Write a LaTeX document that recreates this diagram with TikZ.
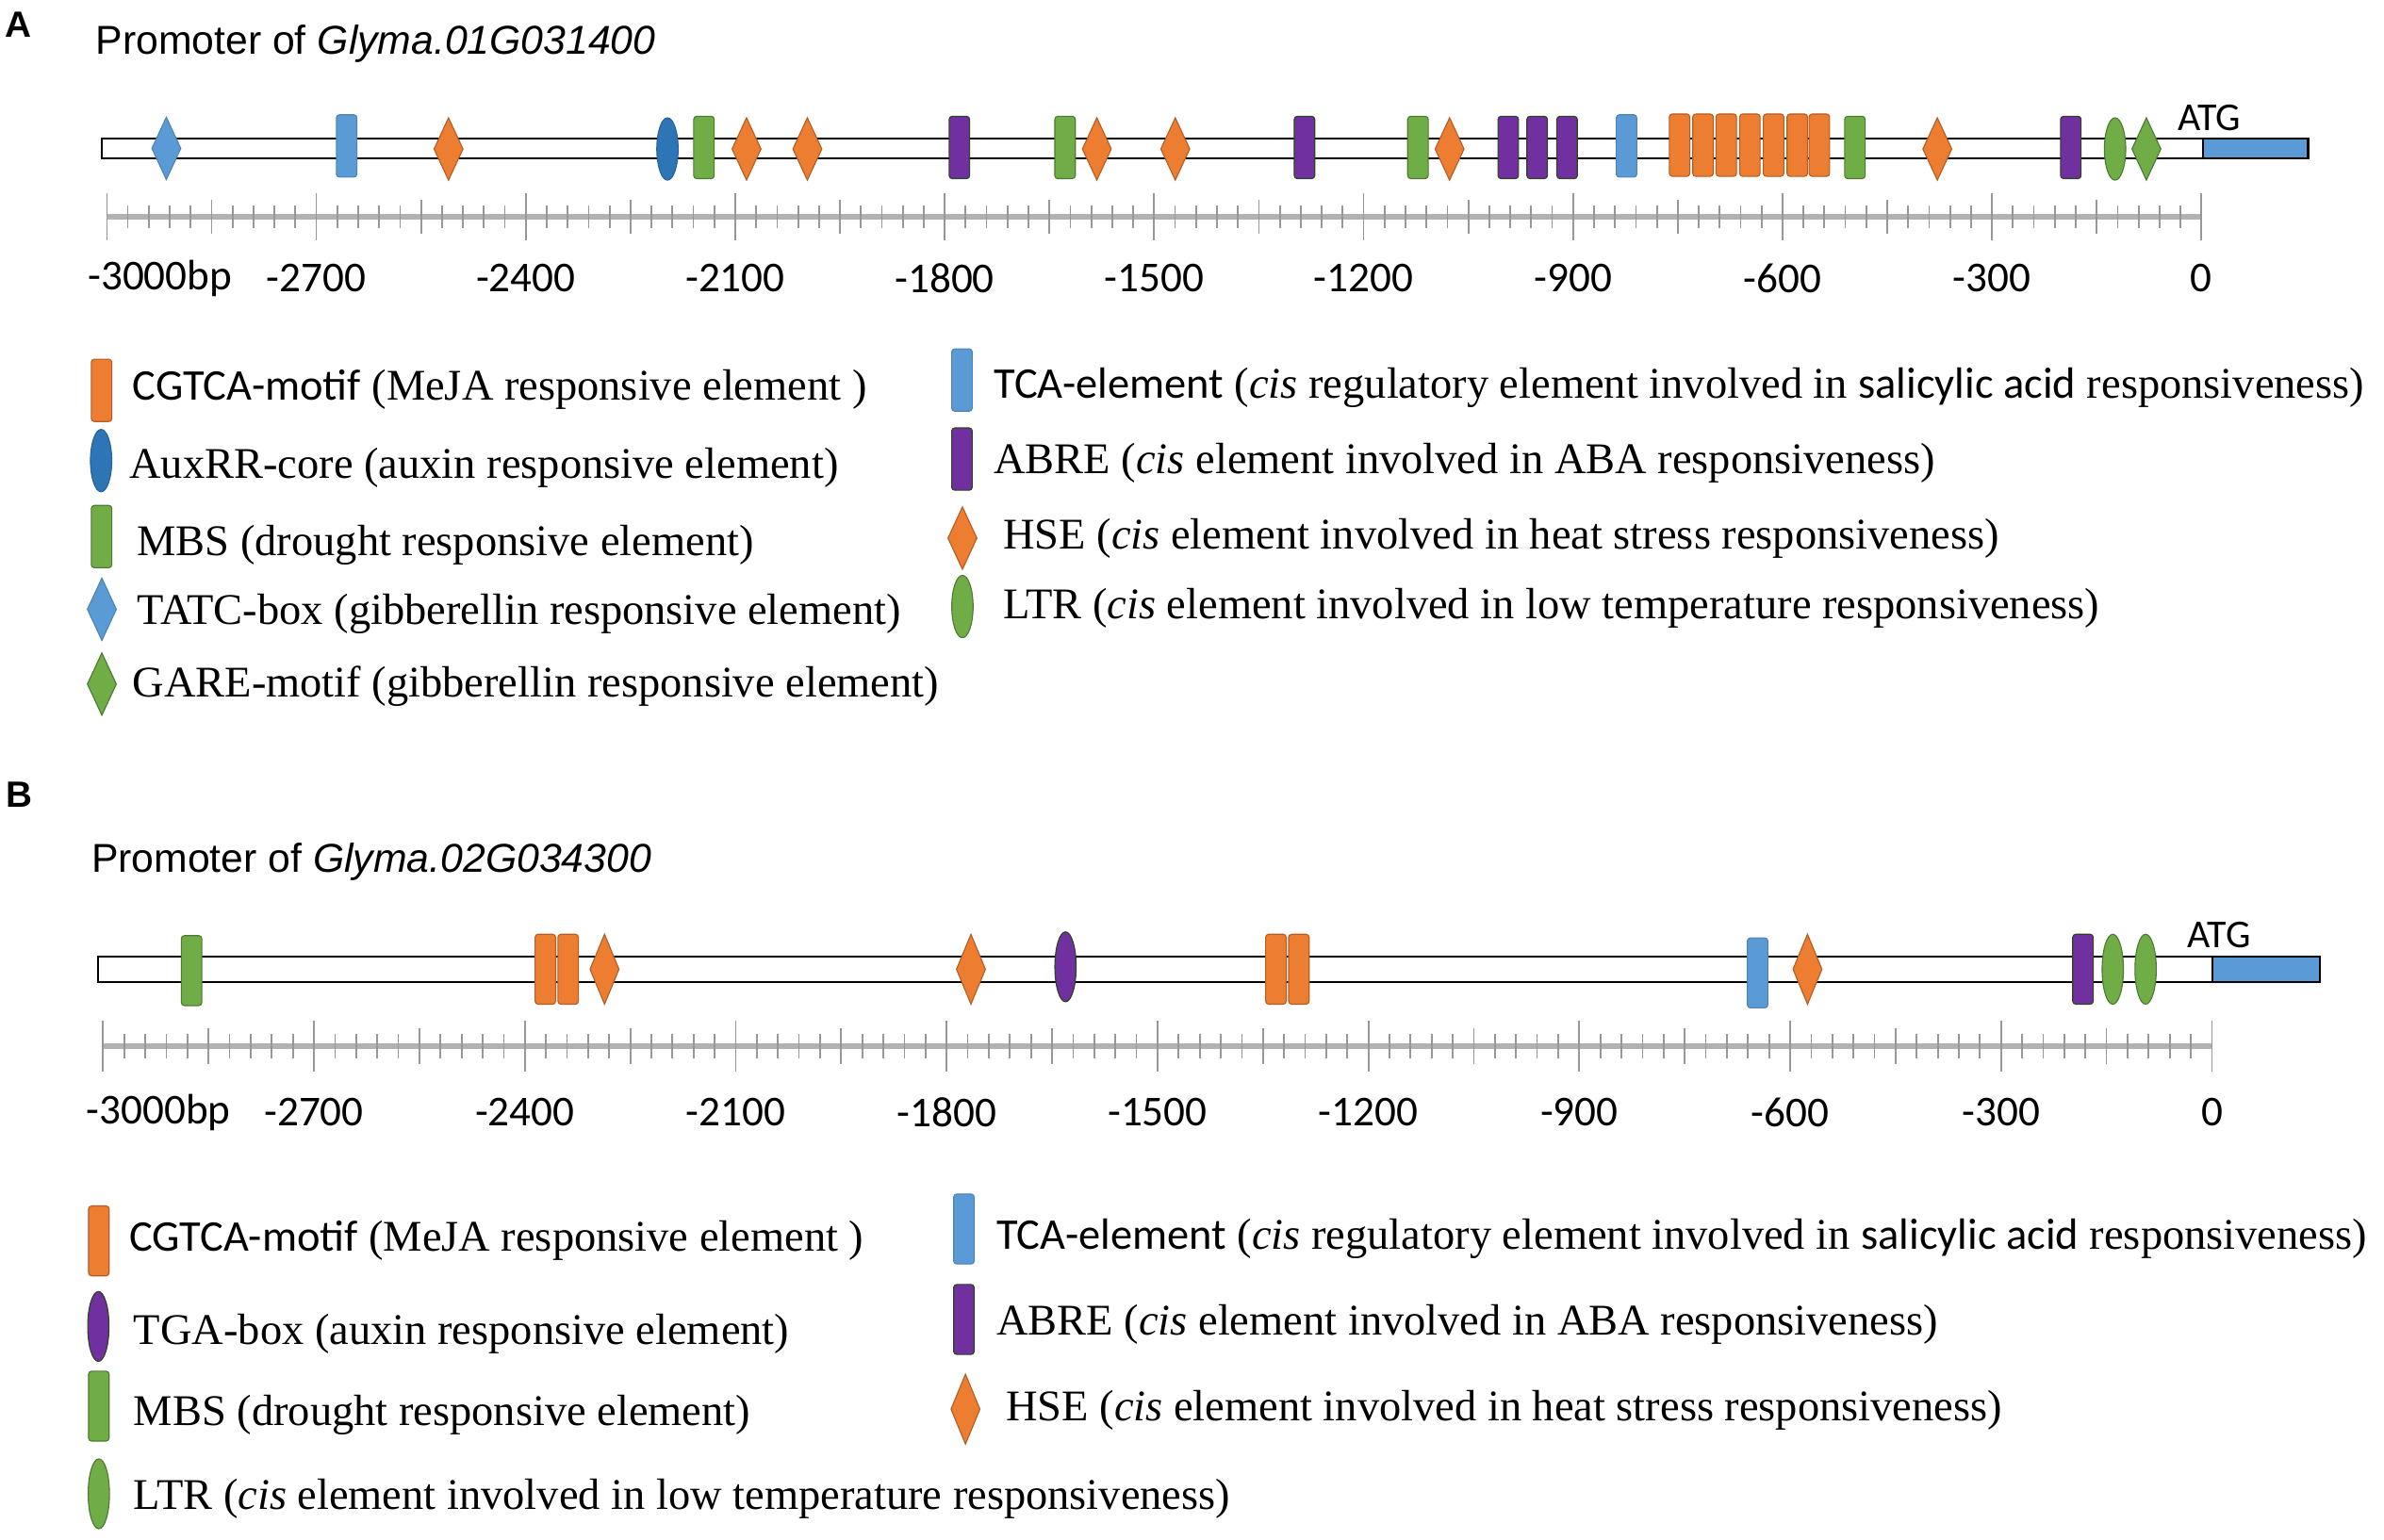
\documentclass[tikz,border=0pt]{standalone}
\usepackage{fontspec}
\setmainfont{Liberation Serif}
\newfontfamily\calibrifont{Carlito}
\newfontfamily\arialfont{Liberation Sans}
\usepackage{tikz}
\usetikzlibrary{shapes.geometric}
\definecolor{motorange}{RGB}{237,125,49}
\definecolor{motblue}{RGB}{91,155,213}
\definecolor{motdarkblue}{RGB}{46,117,182}
\definecolor{motgreen}{RGB}{112,173,71}
\definecolor{motpurple}{RGB}{112,48,160}
\definecolor{rulergray}{RGB}{178,178,178}

\begin{document}
\begin{tikzpicture}[x=1pt,y=1pt,yscale=-1,
  elh/.style={minimum height=41pt},
  motif/.style={inner sep=0pt,outer sep=0pt,line width=0.7pt,elh},
  boxmot/.style={motif,rectangle,rounded corners=2pt,minimum width=13.5pt},
  diamot/.style={motif,diamond,minimum width=19pt},
  ellmot/.style={motif,ellipse,minimum width=14pt},
  cgtca/.style={boxmot,fill=motorange,draw=motorange!75!black},
  tca/.style={boxmot,fill=motblue,draw=motblue!85!black},
  mbs/.style={boxmot,fill=motgreen,draw=motgreen!70!black},
  abre/.style={boxmot,fill=motpurple,draw=motgreen!40!black},
  hse/.style={diamot,fill=motorange,draw=motorange!75!black},
  tatc/.style={diamot,fill=motblue,draw=motblue!85!black},
  gare/.style={diamot,fill=motgreen,draw=motgreen!70!black},
  auxrr/.style={ellmot,fill=motdarkblue,draw=motdarkblue!85!black},
  tga/.style={ellmot,fill=motpurple,draw=motgreen!40!black},
  ltr/.style={ellmot,fill=motgreen,draw=motgreen!70!black},
  promoter/.style={line width=1.5pt,fill=white},
  cds/.style={line width=1.5pt,fill=motblue},
  rulerline/.style={rulergray,line width=4pt},
  rulertick/.style={rulergray!85!black,line width=1.1pt},
  ticklabel/.style={inner sep=0pt,font=\calibrifont\fontsize{28}{30}\selectfont},
  legtext/.style={anchor=west,inner sep=0pt,font=\fontsize{28.8}{32}\selectfont},
  promtitle/.style={anchor=west,inner sep=0pt,font=\arialfont\fontsize{26.5}{30}\selectfont},
  panellabel/.style={anchor=west,inner sep=0pt,font=\arialfont\bfseries\fontsize{24}{26}\selectfont},
  atg/.style={inner sep=0pt,font=\calibrifont\fontsize{26}{28}\selectfont}
]
\useasboundingbox (0,0) rectangle (1568,1013);

% ---------- panel A ----------
\node[panellabel] (labA) at (3,16.5) {A};
\node[promtitle] (titA) at (62.8,29) {Promoter of \textit{Glyma.01G031400}};
\draw[promoter] (66.8,91) rectangle (1448.8,104);
\draw[cds] (1448.8,91) rectangle (1518,104);
\node[atg] (atgA) at (1453,77.5) {ATG};

\node[tatc] (a-tatc-1) at (109.4,97.6) {};
\foreach \x [count=\i] in {228,1069.8}
  \node[tca] (a-tca-\i) at (\x,96) {};
\foreach \x [count=\i] in {295,491,531,721.4,773,953.4,1274.2}
  \node[hse] (a-hse-\i) at (\x,98) {};
\node[auxrr] (a-auxrr-1) at (439,98) {};
\foreach \x [count=\i] in {463,700.5,932.6,1220}
  \node[mbs] (a-mbs-\i) at (\x,97) {};
\foreach \x [count=\i] in {631,858,992,1011,1030.7,1362}
  \node[abre] (a-abre-\i) at (\x,97) {};
\foreach \x [count=\i] in {1104.7,1120.1,1135.4,1150.9,1166.5,1182.1,1196.6}
  \node[cgtca] (a-cgtca-\i) at (\x,95.5) {};
\node[ltr] (a-ltr-1) at (1391.1,98) {};
\node[gare] (a-gare-1) at (1411.7,98) {};

% ruler A
\draw[rulerline] (70.3,142.6) -- (1447.9,142.6);
\foreach \i in {0,...,100}{
  \pgfmathsetmacro{\tx}{70.3+\i*13.776}
  \pgfmathsetmacro{\th}{mod(\i,10)==0 ? 15.5 : (mod(\i,5)==0 ? 11 : 7.5)}
  \draw[rulertick] (\tx,142.6-\th) -- (\tx,142.6+\th);
}
\node[ticklabel,anchor=west] (rulA-0) at (57.7,183) {-3000bp};
\foreach \i in {1,...,10}{
  \pgfmathsetmacro{\tx}{70.3+\i*137.76}
  \pgfmathtruncatemacro{\lab}{-3000+300*\i}
  \node[ticklabel] (rulA-\i) at (\tx,183) {\lab};
}

% legend A
\node[cgtca] (la-cgtca) at (66.8,256.8) {};
\node[legtext] (ta-cgtca) at (87,256) {{\calibrifont CGTCA-motif} (MeJA responsive element )};
\node[auxrr] (la-auxrr) at (66.5,303) {};
\node[legtext] (ta-auxrr) at (85,308) {AuxRR-core (auxin responsive element)};
\node[mbs] (la-mbs) at (66.8,353) {};
\node[legtext] (ta-mbs) at (90,358.5) {MBS (drought responsive element)};
\node[tatc] (la-tatc) at (67,400.8) {};
\node[legtext] (ta-tatc) at (90,404) {TATC-box (gibberellin responsive element)};
\node[gare] (la-gare) at (67,450) {};
\node[legtext] (ta-gare) at (87,451.5) {GARE-motif (gibberellin responsive element)};
\node[tca] (la-tca) at (632.7,250) {};
\node[legtext] (ta-tca) at (653.5,255) {{\calibrifont TCA-element} (\textit{cis} regulatory element involved in {\calibrifont salicylic acid} responsiveness)};
\node[abre] (la-abre) at (632.7,302) {};
\node[legtext] (ta-abre) at (653.5,304.8) {ABRE (\textit{cis} element involved in ABA responsiveness)};
\node[hse] (la-hse) at (633,354) {};
\node[legtext] (ta-hse) at (659.6,354.4) {HSE (\textit{cis} element involved in heat stress responsiveness)};
\node[ltr] (la-ltr) at (633,399) {};
\node[legtext] (ta-ltr) at (659.6,400) {LTR (\textit{cis} element involved in low temperature responsiveness)};

% ---------- panel B ----------
\begin{scope}[elh/.style={minimum height=46pt}]
\node[panellabel] (labB) at (4,522.5) {B};
\node[promtitle] (titB) at (60,567) {Promoter of \textit{Glyma.02G034300}};
\draw[promoter] (64.3,629.3) rectangle (1455.3,645.9);
\draw[cds] (1455.3,629.3) rectangle (1525.7,645.9);
\node[atg] (atgB) at (1459.6,615) {ATG};

\node[mbs] (b-mbs-1) at (126,638.5) {};
\foreach \x [count=\i] in {358.7,373.7,839.2,854.3}
  \node[cgtca] (b-cgtca-\i) at (\x,637.6) {};
\foreach \x [count=\i] in {397.6,638.6,1188.8}
  \node[hse] (b-hse-\i) at (\x,637.6) {};
\node[tga] (b-tga-1) at (700.8,636) {};
\node[tca] (b-tca-1) at (1156,640) {};
\node[abre] (b-abre-1) at (1370,637.6) {};
\foreach \x [count=\i] in {1389.6,1411.2}
  \node[ltr] (b-ltr-\i) at (\x,637.6) {};

% ruler B
\draw[rulerline] (67.8,688.2) -- (1454.8,688.2);
\foreach \i in {0,...,100}{
  \pgfmathsetmacro{\tx}{67.8+\i*13.87}
  \pgfmathsetmacro{\th}{mod(\i,10)==0 ? 17 : (mod(\i,5)==0 ? 12 : 8)}
  \draw[rulertick] (\tx,688.2-\th) -- (\tx,688.2+\th);
}
\node[ticklabel,anchor=west] (rulB-0) at (56.7,731.6) {-3000bp};
\foreach \i in {1,...,10}{
  \pgfmathsetmacro{\tx}{67.8+\i*138.7}
  \pgfmathtruncatemacro{\lab}{-3000+300*\i}
  \node[ticklabel] (rulB-\i) at (\tx,731.6) {\lab};
}

% legend B
\node[cgtca] (lb-cgtca) at (65,816.3) {};
\node[legtext] (tb-cgtca) at (85,816.3) {{\calibrifont CGTCA-motif} (MeJA responsive element )};
\node[tga] (lb-tga) at (64.7,872.6) {};
\node[legtext] (tb-tga) at (87.8,877.2) {TGA-box (auxin responsive element)};
\node[mbs] (lb-mbs) at (65,925) {};
\node[legtext] (tb-mbs) at (87.8,931) {MBS (drought responsive element)};
\node[ltr] (lb-ltr) at (65,982.7) {};
\node[legtext] (tb-ltr) at (87.8,985.7) {LTR (\textit{cis} element involved in low temperature responsiveness)};
\node[tca] (lb-tca) at (634,808.5) {};
\node[legtext] (tb-tca) at (655.3,815.2) {{\calibrifont TCA-element} (\textit{cis} regulatory element involved in {\calibrifont salicylic acid} responsiveness)};
\node[abre] (lb-abre) at (634,868) {};
\node[legtext] (tb-abre) at (655.3,871) {ABRE (\textit{cis} element involved in ABA responsiveness)};
\node[hse] (lb-hse) at (635,927) {};
\node[legtext] (tb-hse) at (661.5,928) {HSE (\textit{cis} element involved in heat stress responsiveness)};
\end{scope}
\end{tikzpicture}
\end{document}
